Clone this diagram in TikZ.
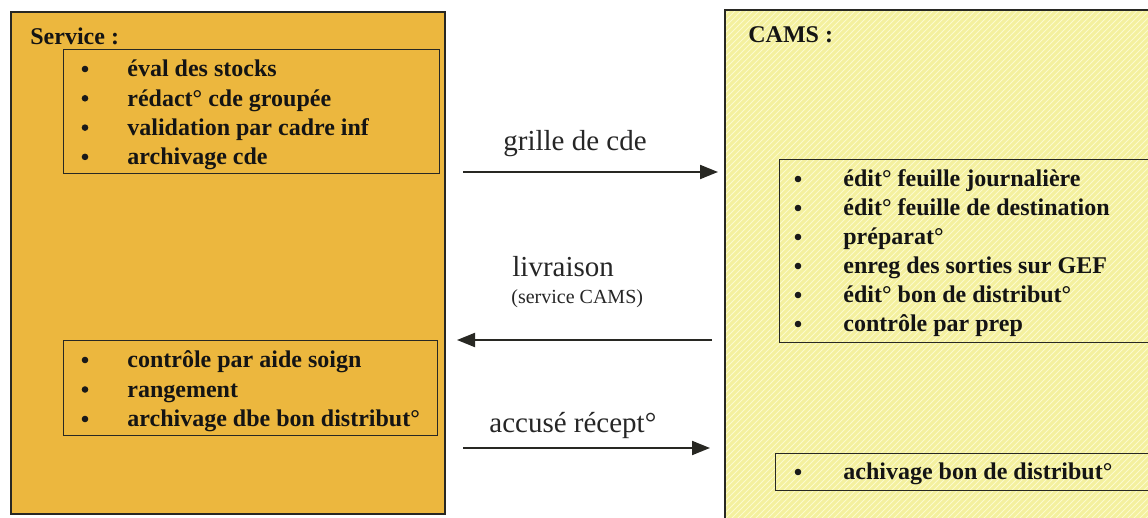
\documentclass[tikz,border=0pt]{standalone}
\usepackage{fontspec}
\setmainfont{Liberation Serif}
\usetikzlibrary{patterns,arrows.meta}
\definecolor{servfill}{RGB}{236,183,62}
\definecolor{camsfill}{RGB}{244,240,158}
\definecolor{camshatch}{RGB}{252,250,205}
\definecolor{inkline}{RGB}{40,40,35}
\tikzset{
  bigbox/.style={draw=inkline, line width=0.9pt, inner sep=0pt, anchor=north west},
  listbox/.style={draw=inkline, line width=0.7pt, inner sep=0pt, anchor=north west},
  itemtxt/.style={anchor=base west, inner sep=0pt, font=\fontsize{12}{14}\selectfont\bfseries, text=black!92},
  bul/.style={circle, fill=black!90, inner sep=0pt, minimum size=3.3pt},
  head/.style={anchor=base west, inner sep=0pt, font=\fontsize{12}{14}\selectfont\bfseries, text=black!92},
  flowlbl/.style={anchor=base west, inner sep=0pt, font=\fontsize{14.5}{16}\selectfont, text=black!85},
  smalllbl/.style={anchor=base west, inner sep=0pt, font=\fontsize{10}{12}\selectfont, text=black!85},
  flow/.style={draw=inkline, line width=1pt, -{Triangle[length=9pt,width=7pt]}}
}
\begin{document}
\begin{tikzpicture}[x=0.5pt,y=-0.5pt]
\useasboundingbox (0,0) rectangle (1148,518);
% big boxes
\node[bigbox, fill=servfill, minimum width=217pt, minimum height=251pt] (serv) at (10,11) {};
\begin{scope}
\clip (0,0) rectangle (1148,518);
\node[anchor=north west, inner sep=0pt, fill=camsfill, minimum width=220pt, minimum height=260pt,
      postaction={pattern=north east lines, pattern color=camshatch}] (cams) at (725,10) {};
\end{scope}
\draw[inkline, line width=0.9pt] (cams.south west) -- (cams.north west) -- (1148,10);
\node[head] (servt) at (30,45) {Service :};
\node[head] (camst) at (748,43) {CAMS :};
% service list 1
\node[listbox, minimum width=188pt, minimum height=62pt] (l1) at (63,49) {};
\foreach \t [count=\i] in {éval des stocks, rédact° cde groupée, validation par cadre inf, archivage cde}{
  \node[bul] (l1b\i) at (85,{77+29.3*(\i-1)-8}) {};
  \node[itemtxt] (l1t\i) at (127,{77+29.3*(\i-1)}) {\t};
}
% service list 2
\node[listbox, minimum width=187pt, minimum height=47.5pt] (l2) at (63,340) {};
\foreach \t [count=\i] in {contrôle par aide soign, rangement, archivage dbe bon distribut°}{
  \node[bul] (l2b\i) at (85,{368+29.5*(\i-1)-8}) {};
  \node[itemtxt] (l2t\i) at (127,{368+29.5*(\i-1)}) {\t};
}
% CAMS lists (extend past right edge)
\begin{scope}
\clip (0,0) rectangle (1148,518);
\node[listbox, minimum width=200pt, minimum height=91.5pt] (r1) at (779,159) {};
\node[listbox, minimum width=200pt, minimum height=18.5pt] (r2) at (775,453) {};
\end{scope}
\foreach \t [count=\i] in {édit° feuille journalière, édit° feuille de destination, préparat°, enreg des sorties sur GEF, édit° bon de distribut°, contrôle par prep}{
  \node[bul] (r1b\i) at (798,{187+29*(\i-1)-8}) {};
  \node[itemtxt] (r1t\i) at (843,{187+29*(\i-1)}) {\t};
}
\node[bul] (r2b1) at (798,472) {};
\node[itemtxt] (r2t1) at (843,480) {achivage bon de distribut°};
% flows
\coordinate (a1s) at (463,172);
\coordinate (a1e) at (718,172);
\coordinate (a2s) at (712,340);
\coordinate (a2e) at (457,340);
\coordinate (a3s) at (463,448);
\coordinate (a3e) at (710,448);
\draw[flow] (a1s) -- (a1e);
\draw[flow] (a2s) -- (a2e);
\draw[flow] (a3s) -- (a3e);
\node[flowlbl] (g1) at (503,151) {grille de cde};
\node[flowlbl] (g2) at (512,277) {livraison};
\node[smalllbl] (g2b) at (511,304) {(service CAMS)};
\node[flowlbl] (g3) at (489,433) {accusé récept°};
\end{tikzpicture}
\end{document}
